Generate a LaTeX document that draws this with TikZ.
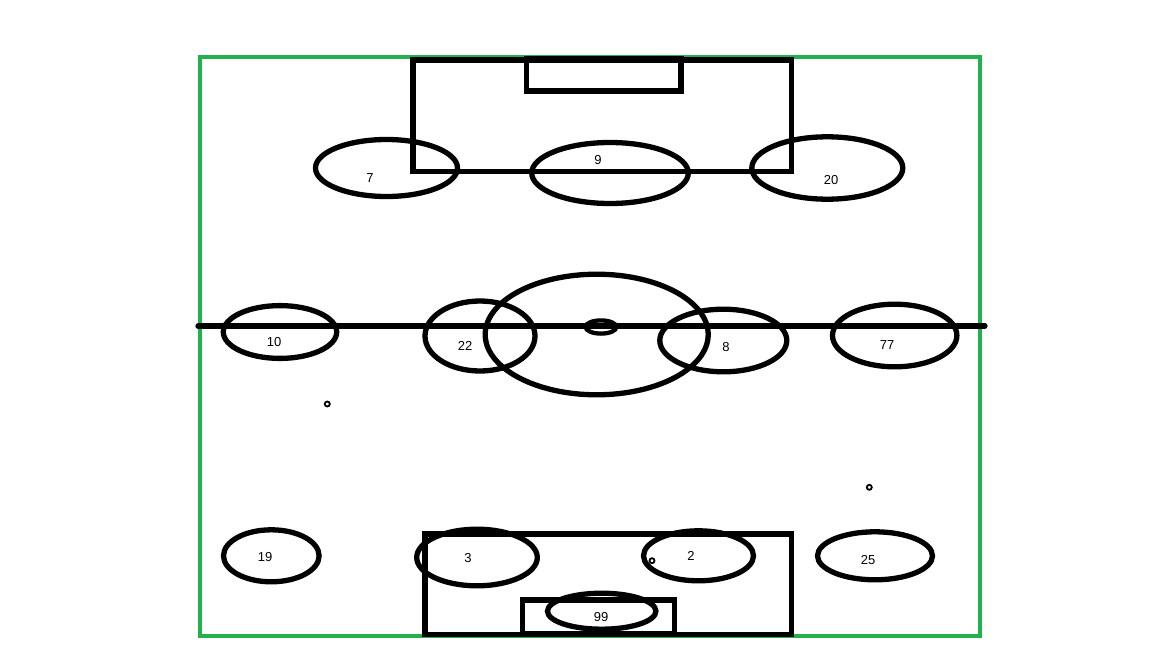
\documentclass[tikz,border=0pt]{standalone}
\usepackage{fontspec}
\setmainfont{Liberation Sans}
\usetikzlibrary{shapes.geometric}
\definecolor{pitchgreen}{RGB}{34,177,76}
\tikzset{
  pitchline/.style={line width=5.3pt, draw=black},
  border/.style={line width=4.5pt, draw=pitchgreen},
  player/.style={ellipse, draw=black, line width=5.3pt, inner sep=0pt, minimum width=#1},
  num/.style={font=\fontsize{13}{15}\selectfont, text=black, inner sep=0pt},
  spot/.style={circle, draw=black, line width=1.8pt, minimum size=5pt, inner sep=0pt}
}
\begin{document}
\begin{tikzpicture}[x=1pt,y=-1pt]
\useasboundingbox (0,0) rectangle (1152,648);
% green border
\draw[border] (200,57) rectangle (980,636);
% halfway line
\coordinate (hl) at (198,326);
\coordinate (hr) at (985,326);
\draw[pitchline, line cap=round] (hl) -- (hr);
% top boxes
\draw[pitchline] (413,60) rectangle (791.5,171.5);
\draw[pitchline] (526.5,59) rectangle (681,91);
% bottom boxes
\draw[pitchline] (425,534) rectangle (791.5,634.5);
\draw[pitchline] (522.5,600) rectangle (674.5,634);
% centre circle and spot
\node[player=223pt, minimum height=120.6pt] (cc) at (596.7,334.5) {};
\node[ellipse, draw=black, line width=4.3pt, inner sep=0pt, minimum width=30.8pt, minimum height=13.2pt] (cs) at (601,327) {};
% players
\node[player=142pt, minimum height=57pt] (p7) at (386.5,168) {};
\node[player=156.6pt, minimum height=61pt] (p9) at (610,173) {};
\node[player=151pt, minimum height=62.4pt] (p20) at (827.3,168) {};
\node[player=113.4pt, minimum height=52.8pt] (p10) at (280,332) {};
\node[player=110pt, minimum height=70pt] (p22) at (480,336) {};
\node[player=127pt, minimum height=62.6pt] (p8) at (723.3,340.5) {};
\node[player=124.4pt, minimum height=62.6pt] (p77) at (894.7,335.5) {};
\node[player=95.6pt, minimum height=52pt] (p19) at (271.3,555.8) {};
\node[player=120.6pt, minimum height=56.6pt] (p3) at (477,557.5) {};
\node[player=110pt, minimum height=50pt] (p2) at (698.5,555.8) {};
\node[player=115pt, minimum height=48pt] (p25) at (875,555.8) {};
\node[player=108.4pt, minimum height=36pt] (p99) at (601.7,611.2) {};
% numbers
\node[num] (t7) at (370,178) {7};
\node[num] (t9) at (598,160) {9};
\node[num] (t20) at (831,180) {20};
\node[num] (t10) at (274,342) {10};
\node[num] (t22) at (465,346) {22};
\node[num] (t8) at (726,347) {8};
\node[num] (t77) at (887,345) {77};
\node[num] (t19) at (265,557) {19};
\node[num] (t3) at (468,558) {3};
\node[num] (t2) at (691,556) {2};
\node[num] (t25) at (868,560) {25};
\node[num] (t99) at (601,617) {99};
% small marks
\node[spot] (s1) at (327.3,404) {};
\node[spot] (s2) at (869.3,487.3) {};
\node[spot] (s3) at (652,560.7) {};
\end{tikzpicture}
\end{document}
